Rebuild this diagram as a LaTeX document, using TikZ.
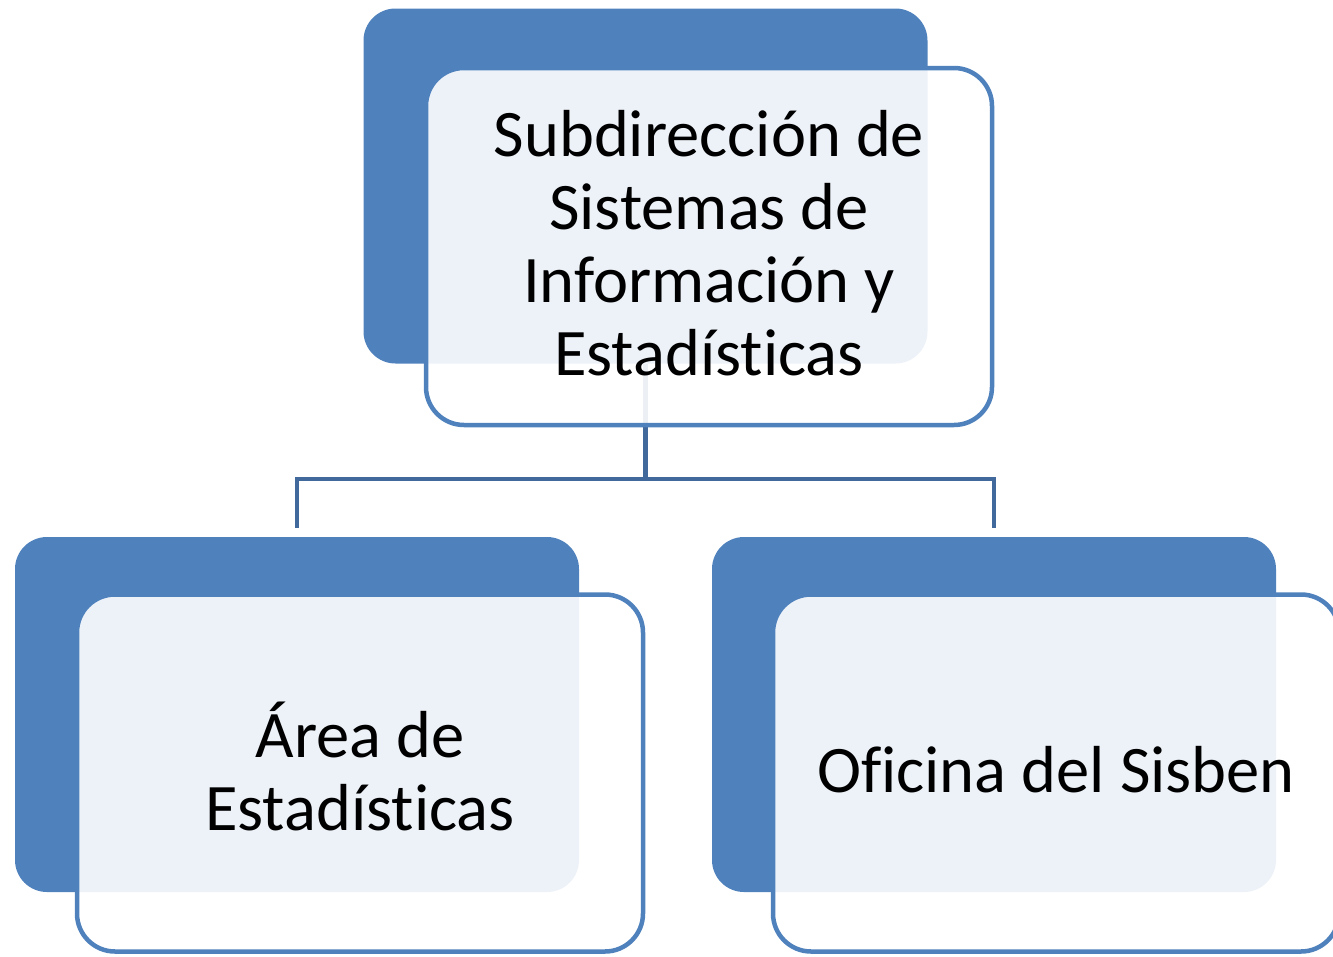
\documentclass[tikz,border=0pt]{standalone}
\usepackage{fontspec}
\setmainfont[Ligatures=NoCommon]{Carlito}
\definecolor{accent}{HTML}{4F81BD}
\definecolor{linkc}{HTML}{41699B}
\begin{document}
\begin{tikzpicture}[x=1pt,y=-1pt,
  backbox/.style={rectangle,fill=accent,draw=none,rounded corners=32pt,
    minimum width=564pt,minimum height=355pt,inner sep=0pt},
  frontbox/.style={rectangle,draw=accent,line width=4.5pt,fill=white,fill opacity=0.9,
    rounded corners=38pt,minimum width=566pt,minimum height=357pt,inner sep=0pt},
  boxtext/.style={align=center,inner sep=0pt,font=\fontsize{66.5}{73}\selectfont},
  link/.style={draw=linkc,line width=4.5pt}]
\useasboundingbox (0,0) rectangle (1333,956);
% back boxes
\node[backbox] (tb) at (645.5,186) {};
\node[backbox] (lb) at (297,714.5) {};
\node[backbox] (rb) at (994,714.5) {};
% connectors
\coordinate (lend) at (297,528);
\coordinate (rend) at (994,528);
\coordinate (mid) at (645.5,479);
\draw[link] (tb.south) -- (mid);
\draw[link] (lend) |- (mid) -| (rend);
% front boxes
\node[frontbox] (tf) at (709,246.5) {};
\node[frontbox] (lf) at (360,773) {};
\node[frontbox] (rf) at (1056,773) {};
% texts
\node[boxtext,yshift=3pt] (tft) at (tf) {Subdirección de\\Sistemas de\\Información y\\Estadísticas};
\node[boxtext,yshift=7pt] (lft) at (lf) {Área de\\Estadísticas};
\node[boxtext,yshift=3pt] (rft) at (rf) {Oficina del Sisben};
\end{tikzpicture}
\end{document}
